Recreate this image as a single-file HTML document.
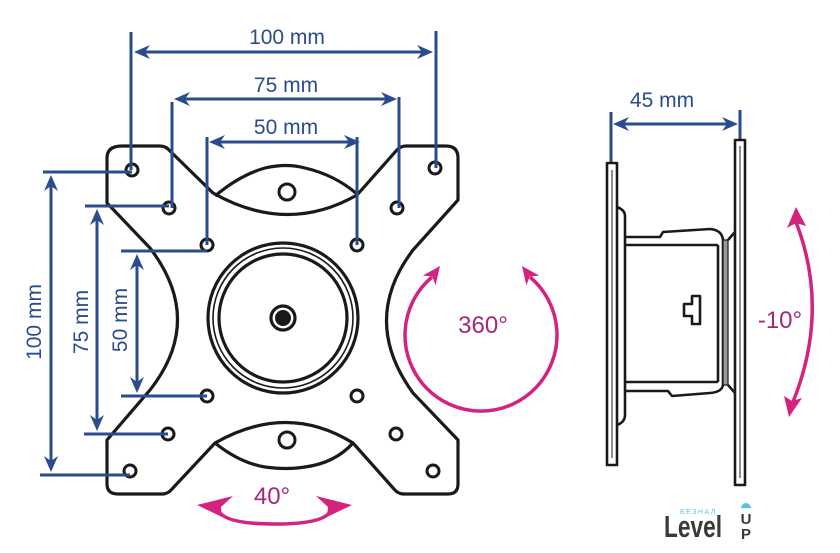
<!DOCTYPE html>
<html><head><meta charset="utf-8"><style>
html,body{margin:0;padding:0;background:#fff;}
svg{display:block;}
text{font-family:"Liberation Sans",sans-serif;}
</style></head><body>
<svg width="840" height="553" viewBox="0 0 840 553" xmlns="http://www.w3.org/2000/svg">

<!-- plate -->
<g fill="none" stroke="#1a1a1a" stroke-width="3.2" stroke-linejoin="round">
<path d="M122,146 L160,146 Q166,146 170,151 L213,193 Q287,235 357,195 L396,151 Q400,146 406,146 L446,146 Q458,146 458,158 L458,200 L413,250 Q360,320 413,393 L458,440 L458,484 Q458,494 448,494 L404,494 Q398,494 394,489 L353,443 Q287,402 215,443 L172,489 Q168,494 162,494 L118,494 Q107,494 107,484 L107,440 L150,390 Q205,320 150,248 L107,203 L107,158 Q107,146 122,146 Z"/>
<path d="M215,196 Q240,175 265,168 Q287,163 305,168 Q335,175 357,194"/>
<path d="M215,443 Q240,463 265,467 Q287,470 305,467 Q335,463 353,443"/>
<circle cx="283" cy="318" r="75"/>
<circle cx="283" cy="318" r="70" stroke-width="1.6"/>
<circle cx="283" cy="318" r="64"/>
<circle cx="283" cy="318" r="12"/>
</g>
<circle cx="283" cy="318" r="8" fill="#1a1a1a"/>
<g fill="none" stroke="#1a1a1a" stroke-width="3">
<circle cx="132" cy="170" r="6"/><circle cx="435" cy="168" r="6"/>
<circle cx="130" cy="471" r="6"/><circle cx="433" cy="471" r="6"/>
<circle cx="169" cy="208" r="6"/><circle cx="397" cy="208" r="6"/>
<circle cx="168" cy="434" r="6"/><circle cx="396" cy="434" r="6"/>
<circle cx="207" cy="245" r="6"/><circle cx="357" cy="245" r="6"/>
<circle cx="207" cy="396" r="6"/><circle cx="357" cy="396" r="6"/>
<circle cx="287" cy="192" r="8"/><circle cx="287" cy="440" r="8"/>
</g>

<!-- blue dimensions -->
<g stroke="#2a4b8d" stroke-width="3" fill="none">
<line x1="131" y1="32" x2="131" y2="170"/><line x1="436" y1="31" x2="436" y2="168"/>
<line x1="140" y1="52" x2="427" y2="52"/>
<line x1="172" y1="102" x2="172" y2="208"/><line x1="399" y1="97" x2="399" y2="208"/>
<line x1="180" y1="99" x2="391" y2="99"/>
<line x1="207" y1="137" x2="207" y2="245"/><line x1="357" y1="137" x2="357" y2="245"/>
<line x1="215" y1="142" x2="354" y2="142"/>

<line x1="43" y1="172" x2="132" y2="172"/><line x1="40" y1="475" x2="130" y2="475"/>
<line x1="51" y1="181" x2="51" y2="466"/>
<line x1="85" y1="206" x2="169" y2="206"/><line x1="84" y1="434" x2="168" y2="434"/>
<line x1="97" y1="215" x2="97" y2="425"/>
<line x1="121" y1="251" x2="207" y2="251"/><line x1="121" y1="396" x2="207" y2="396"/>
<line x1="137" y1="260" x2="137" y2="387"/>

<line x1="611" y1="112" x2="611" y2="163"/><line x1="740" y1="110" x2="740" y2="140"/>
<line x1="619" y1="124" x2="732" y2="124"/>
</g>
<g fill="#2a4b8d">
<polygon points="134,52 150,45 145,52 150,59"/><polygon points="433,52 417,45 422,52 417,59"/>
<polygon points="174,99 190,92 185,99 190,106"/><polygon points="397,99 381,92 386,99 381,106"/>
<polygon points="209,142 225,135 220,142 225,149"/><polygon points="360,142 344,135 349,142 344,149"/>
<polygon points="51,175 44,191 51,186 58,191"/><polygon points="51,472 44,456 51,461 58,456"/>
<polygon points="97,209 90,225 97,220 104,225"/><polygon points="97,431 90,415 97,420 104,415"/>
<polygon points="137,254 130,270 137,265 144,270"/><polygon points="137,393 130,377 137,382 144,377"/>
<polygon points="613,124 629,117 624,124 629,131"/><polygon points="738,124 722,117 727,124 722,131"/>
</g>
<g fill="#2a4b8d" font-size="21" text-anchor="middle">
<text x="287" y="44">100 mm</text>
<text x="286" y="92">75 mm</text>
<text x="286" y="134">50 mm</text>
<text x="662" y="107">45 mm</text>
<text transform="translate(41,322) rotate(-90)">100 mm</text>
<text transform="translate(88,322) rotate(-90)">75 mm</text>
<text transform="translate(127,320) rotate(-90)">50 mm</text>
</g>

<!-- magenta -->
<g stroke="#d4237f" stroke-width="3.5" fill="none">
<path d="M432,277 A76,76 0 1 0 530,277"/>
<path d="M218,508 Q220,524 275,524 Q330,524 331,508"/>
<path d="M796,222 Q830,310 793,402"/>
</g>
<g fill="#d4237f">
<polygon points="440,266 435.6,285.2 432.2,276.4 422.8,275.6"/>
<polygon points="522,266 526.4,285.2 529.8,276.4 539.2,275.6"/>
<polygon points="197,505 233,496 221,507 222,517"/>
<polygon points="352,505 316,496 328,507 327,517"/>
<polygon points="796,207 787,228 796,223 806,226"/>
<polygon points="789,417 784,396 792,401 802,398"/>
</g>
<g fill="#a3287a" font-size="24" text-anchor="middle">
<text x="483" y="333">360°</text>
<text x="272" y="504">40°</text>
<text x="780" y="328">-10°</text>
</g>

<!-- side view -->
<g fill="none" stroke="#1a1a1a" stroke-width="2.6" stroke-linejoin="round">
<rect x="607" y="163" width="10" height="302"/>
<line x1="612" y1="170" x2="612" y2="458" stroke-width="1"/>
<path d="M617,207 Q625,210 625,216 L625,415 Q625,422 617,425"/>
<path d="M625,237 L660,237 L663,232 L710,229 Q722,230 723,240 L723,385 Q722,392 710,393 L672,396 L668,391 L625,391"/>
<line x1="625" y1="245" x2="718" y2="245"/>
<line x1="625" y1="382" x2="718" y2="382"/>
<line x1="718" y1="245" x2="718" y2="382"/>
<rect x="723" y="240" width="5" height="145" fill="#9a9a9a" stroke-width="1.2"/>
<path d="M728,240 L735,232 M728,385 L735,393"/>
<path d="M700,296 L692,296 L692,304 L684,304 L684,316 L692,316 L692,324 L700,324 Z"/>
<rect x="735" y="140" width="10" height="345"/>
<line x1="740" y1="146" x2="740" y2="478" stroke-width="1"/>
</g>

<!-- logo -->
<text x="680" y="514" font-size="7" fill="#5bc3e0" letter-spacing="1.5">БЕЗНАЛ</text>
<text x="664" y="537" font-size="31" font-weight="bold" fill="#3a3a3a" textLength="58" lengthAdjust="spacingAndGlyphs">Level</text>
<path d="M741,508 A5,5 0 0 1 751,508" fill="#5bc3e0"/>
<text x="746" y="524" font-size="15" font-weight="bold" fill="#3a3a3a" text-anchor="middle">U</text>
<text x="746" y="539" font-size="15" font-weight="bold" fill="#3a3a3a" text-anchor="middle">P</text>
</svg>
</body></html>
